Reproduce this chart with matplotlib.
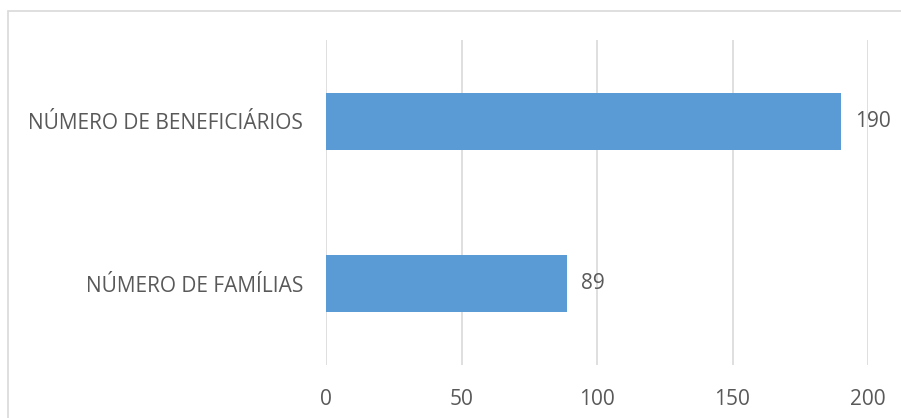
import matplotlib.pyplot as plt
from matplotlib.patches import Rectangle

categories = ["NÚMERO DE FAMÍLIAS", "NÚMERO DE BENEFICIÁRIOS"]
values = [89, 190]
xticks = [0, 50, 100, 150, 200]

W, H = 901, 418
fig = plt.figure(figsize=(W / 100, H / 100), dpi=100)
plt.rcParams['font.family'] = ['Open Sans', 'DejaVu Sans']

# chart frame
fig.patches.append(Rectangle((8 / W, -0.1), 1.5, (H - 11) / H + 0.1,
                             transform=fig.transFigure, fill=False,
                             edgecolor='#d9d9d9', linewidth=1.2))

ax = fig.add_axes([326 / W, (H - 365) / H, (868 - 326) / W, (365 - 40) / H])
text_color = '#595959'
fs = 15
bars = ax.barh(range(len(categories)), values, height=0.35, color='#5b9bd5')
ax.set_xlim(0, 200)
ax.set_ylim(-0.5, len(categories) - 0.5)
ax.set_xticks(xticks)
ax.set_xticklabels([str(t) for t in xticks])
ax.set_yticks(range(len(categories)))
ax.set_yticklabels(categories)
ax.tick_params(axis='both', length=0, labelsize=fs, colors=text_color)
ax.tick_params(axis='x', pad=17)
ax.tick_params(axis='y', pad=16.5)
ax.grid(axis='x', color='#d9d9d9', linewidth=1.2)
ax.set_axisbelow(True)
for s in ax.spines.values():
    s.set_visible(False)

for b, v in zip(bars, values):
    ax.annotate(str(v), (v, b.get_y() + b.get_height() / 2), xytext=(14, 0),
                textcoords='offset pixels',
                va='center', ha='left', fontsize=fs, color=text_color)

fig.savefig('out.png', dpi=100)
